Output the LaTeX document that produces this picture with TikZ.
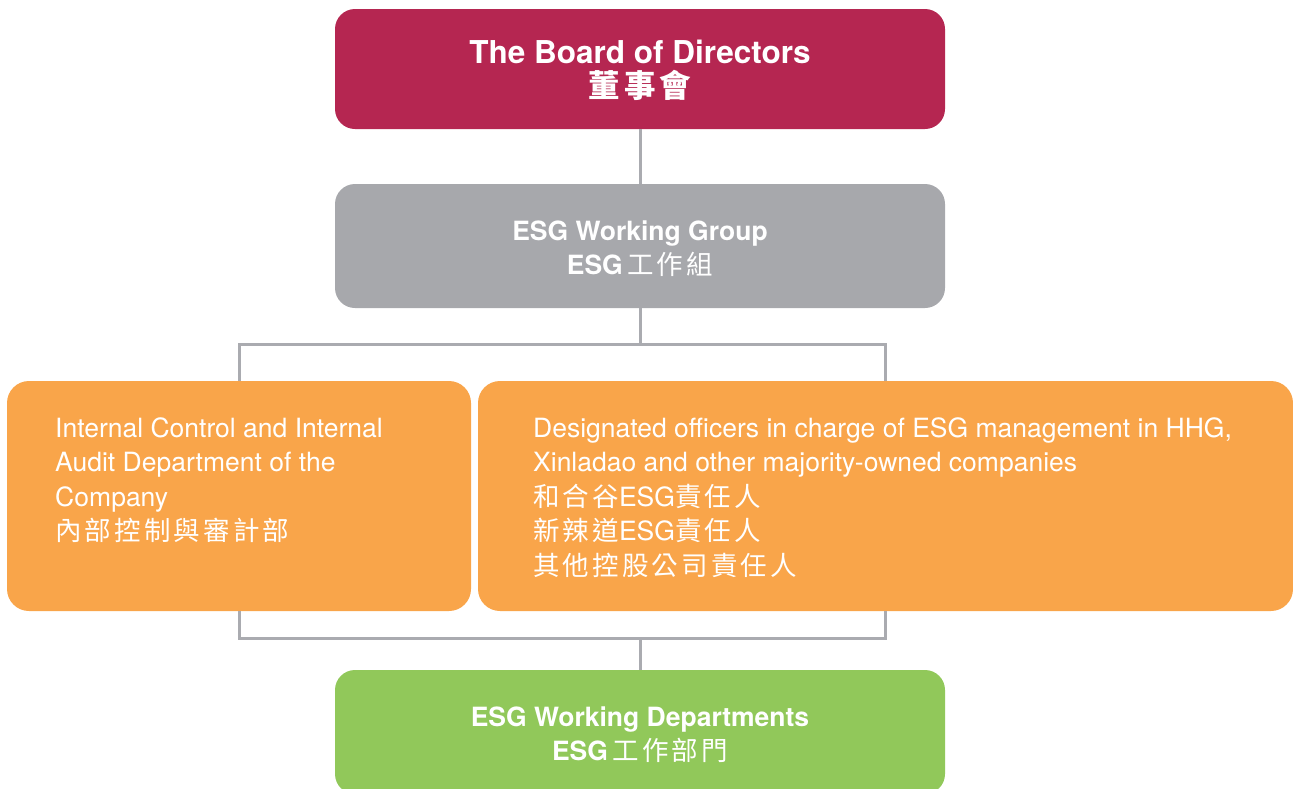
\documentclass[tikz,border=0pt]{standalone}
\usepackage{fontspec}
\setmainfont{TeX Gyre Heros}
\newfontfamily\cjkfont[LetterSpace=12]{Noto Sans CJK TC}
\usepackage{xcolor}
\definecolor{boardcolor}{RGB}{181, 38, 81}
\definecolor{groupcolor}{RGB}{167, 168, 172}
\definecolor{unitcolor}{RGB}{249, 165, 74}
\definecolor{deptcolor}{RGB}{145, 200, 90}
\definecolor{linkcolor}{RGB}{170, 171, 176}
\newcommand{\zh}[1]{{\cjkfont #1}}
\newcommand{\lift}{\rule{0pt}{26pt}}

\begin{document}
\begin{tikzpicture}[x=1pt, y=-1pt,
        box/.style={rounded corners=20pt, inner sep=0pt, text=white, align=center,
                font=\bfseries\fontsize{26.5}{34}\selectfont},
        unit/.style={rounded corners=22pt, fill=unitcolor, minimum height=230pt},
        body/.style={inner sep=0pt, text=white, align=left, anchor=north west,
                font=\fontsize{26.5}{34.5}\selectfont},
        link/.style={draw=linkcolor, line width=3pt}]
        \useasboundingbox (0, 0) rectangle (1293, 788);

        % Boxes {{{
        \node[box, fill=boardcolor, minimum width=610pt, minimum height=120pt,
                font=\bfseries\fontsize{31.5}{34}\selectfont] (board) at (640, 69)
                {\lift The Board of Directors\\\zh{董事會}};
        \node[box, fill=groupcolor, minimum width=610pt, minimum height=124pt] (group) at (640, 246)
                {\lift ESG Working Group\\ESG\,\zh{\mdseries 工作組}};
        \node[unit, minimum width=464pt] (audit) at (239, 496) {};
        \node[unit, minimum width=815pt] (officers) at (885.5, 496) {};
        \node[box, fill=deptcolor, minimum width=610pt, minimum height=124pt] (depts) at (640, 732)
                {\lift ESG Working Departments\\ESG\,\zh{\mdseries 工作部門}};
        % }}}

        % Texts of the two middle boxes {{{
        \node[body] (audittext) at (55, 417) {Internal Control and Internal\\
                Audit Department of the\\Company\\\zh{內部控制與審計部}};
        \node[body] (officerstext) at (533, 417) {Designated officers in charge of ESG management in HHG,\\
                Xinladao and other majority-owned companies\\
                \zh{和合谷}ESG\zh{責任人}\\\zh{新辣道}ESG\zh{責任人}\\\zh{其他控股公司責任人}};
        % }}}

        % Connectors {{{
        \coordinate (split) at (640, 344);
        \coordinate (merge) at (640, 638);
        \draw[link] (board) -- (group);
        \draw[link] (group) -- (split);
        \draw[link] (audit.north) |- (split) -| (officers.north);
        \draw[link] (audit.south) |- (merge) -| (officers.south);
        \draw[link] (merge) -- (depts);
        % }}}
\end{tikzpicture}
\end{document}
